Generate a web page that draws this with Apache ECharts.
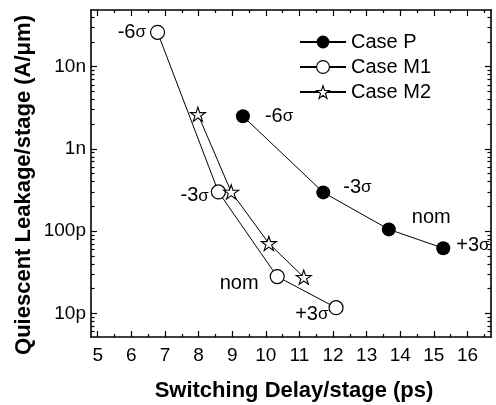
<!DOCTYPE html>
<html lang="en">
<head>
    <meta charset="UTF-8">
    <title>Quiescent leakage vs switching delay</title>
    <script src="https://cdn.jsdelivr.net/npm/echarts@6/dist/echarts.min.js"></script>
    <style>
        html, body { margin: 0; padding: 0; background: #fff; }
        #main { width: 496px; height: 405px; }
    </style>
</head>
<body>
    <div id="main"></div>

    <script>
        // data (delay in ps, leakage in A/um)
        var delayP = [9.32, 11.71, 13.66, 15.28];
        var leakP = [2.5e-9, 2.96e-10, 1.05e-10, 6.2e-11];
        var delayM1 = [6.78, 8.59, 10.34, 12.09];
        var leakM1 = [2.62e-8, 3.0e-10, 2.8e-11, 1.17e-11];
        var delayM2 = [7.98, 8.97, 10.09, 11.13];
        var leakM2 = [2.64e-9, 3.0e-10, 7.1e-11, 2.75e-11];
        var cornerNames = ['-6σ', '-3σ', 'nom', '+3σ'];
        var seriesNames = ['Case P', 'Case M1', 'Case M2'];

        var xTicks = [5, 6, 7, 8, 9, 10, 11, 12, 13, 14, 15, 16];
        var yTickValues = [1e-11, 1e-10, 1e-9, 1e-8];
        var yTickLabels = ['10p', '100p', '1n', '10n'];

        var xRange = [4.8, 16.7];
        var yRange = [5.15e-12, 4.9e-8];

        var font = '"Liberation Sans", Arial, sans-serif';
        var starPath = 'path://M100 0 L122.45 69.1 L195.11 69.1 L136.33 111.8 L158.78 180.9 L100 138.2 L41.22 180.9 L63.67 111.8 L4.89 69.1 L77.55 69.1 Z';

        // where each corner label sits next to its point
        var placeP = [
            { position: 'right', distance: 15, offset: [0, 0] },
            { position: 'right', distance: 13, offset: [0, -5] },
            { position: 'right', distance: 16, offset: [0, -12] },
            { position: 'right', distance: 6, offset: [0, -3] }
        ];
        var placeM1 = [
            { position: 'left', distance: 4, offset: [0, 0] },
            { position: 'left', distance: 2, offset: [0, 4] },
            { position: 'left', distance: 11, offset: [0, 7] },
            { position: 'left', distance: 0, offset: [0, 7] }
        ];

        var log10 = function (v) { return Math.log10(v); };
        var yMin = log10(yRange[0]), yMax = log10(yRange[1]);

        // minor ticks: half steps on x, 2..9 per decade on y
        var xMinor = [];
        for (var i = 4; i <= 16; i++) xMinor.push(i + 0.5);
        var yMinor = [];
        for (var d = -12; d <= -8; d++) {
            for (var k = 2; k <= 9; k++) yMinor.push(d + Math.log10(k));
        }
        var yMajor = yTickValues.map(log10);

        function buildPoints(xs, ys, labels, place) {
            return xs.map(function (x, i) {
                var item = { value: [x, log10(ys[i])] };
                if (labels) {
                    item.label = {
                        show: true,
                        // sigma drawn a bit smaller, like the symbol font in the figure
                        formatter: labels[i].replace('σ', '{s|σ}'),
                        position: place[i].position,
                        distance: place[i].distance,
                        offset: place[i].offset,
                        color: '#000',
                        fontSize: 20,
                        fontFamily: font,
                        rich: { s: { fontSize: 17, fontFamily: font, color: '#000' } }
                    };
                }
                return item;
            });
        }

        function frameAxis(dim, pos, ticks, len, showLine, labelVals, formatter) {
            var range = dim === 'x' ? [xRange[0], xRange[1]] : [yMin, yMax];
            return {
                type: 'value',
                position: pos,
                min: range[0],
                max: range[1],
                axisLine: { show: showLine, onZero: false, lineStyle: { color: '#000', width: 1.6 } },
                axisTick: {
                    show: true, inside: true, length: len, customValues: ticks,
                    lineStyle: { color: '#000', width: 1.2 }
                },
                axisLabel: labelVals ? {
                    show: true, customValues: labelVals, formatter: formatter,
                    color: '#000', fontSize: 19, fontFamily: font,
                    margin: dim === 'x' ? 9 : 5
                } : { show: false },
                splitLine: { show: false }
            };
        }

        var yFormatter = function (v) {
            for (var i = 0; i < yMajor.length; i++) {
                if (Math.abs(yMajor[i] - v) < 1e-6) return yTickLabels[i];
            }
            return '';
        };

        var myChart = echarts.init(document.getElementById('main'));

        var option = {
            animation: false,
            backgroundColor: '#fff',
            grid: { left: 91, right: 5, top: 10, bottom: 68, containLabel: false },
            xAxis: [
                frameAxis('x', 'bottom', xTicks, 6, true, xTicks, function (v) { return String(v); }),
                frameAxis('x', 'bottom', xMinor, 3, false),
                frameAxis('x', 'top', xTicks, 6, true),
                frameAxis('x', 'top', xMinor, 3, false)
            ],
            yAxis: [
                frameAxis('y', 'left', yMajor, 6, true, yMajor, yFormatter),
                frameAxis('y', 'left', yMinor, 3.5, false),
                frameAxis('y', 'right', yMajor, 6, true),
                frameAxis('y', 'right', yMinor, 3.5, false)
            ],
            legend: {
                left: 294,
                top: 27,
                orient: 'vertical',
                itemWidth: 46,
                itemHeight: 16,
                itemGap: 5,
                itemStyle: { borderWidth: 1.1 },
                textStyle: { color: '#000', fontSize: 20, fontFamily: font, lineHeight: 20 },
                data: seriesNames
            },
            graphic: [
                {
                    type: 'text', x: 294, y: 391,
                    style: {
                        text: 'Switching Delay/stage (ps)',
                        font: 'bold 22px ' + font,
                        textAlign: 'center', textVerticalAlign: 'middle', fill: '#000'
                    }
                },
                {
                    type: 'text', x: 24, y: 185, rotation: Math.PI / 2,
                    style: {
                        text: 'Quiescent Leakage/stage (A/μm)',
                        font: 'bold 22px ' + font,
                        textAlign: 'center', textVerticalAlign: 'middle', fill: '#000'
                    }
                }
            ],
            series: [
                {
                    name: seriesNames[0],
                    type: 'line',
                    symbol: 'circle',
                    symbolSize: 14,
                    itemStyle: { color: '#000' },
                    lineStyle: { color: '#000', width: 1 },
                    data: buildPoints(delayP, leakP, cornerNames, placeP)
                },
                {
                    name: seriesNames[1],
                    type: 'line',
                    symbol: 'circle',
                    symbolSize: 14,
                    itemStyle: { color: '#fff', borderColor: '#000', borderWidth: 1.2 },
                    lineStyle: { color: '#000', width: 1 },
                    data: buildPoints(delayM1, leakM1, cornerNames, placeM1)
                },
                {
                    name: seriesNames[2],
                    type: 'line',
                    symbol: starPath,
                    symbolKeepAspect: true,
                    symbolSize: 15,
                    itemStyle: { color: '#fff', borderColor: '#000', borderWidth: 1.1 },
                    lineStyle: { color: '#000', width: 1 },
                    data: buildPoints(delayM2, leakM2)
                }
            ]
        };

        myChart.setOption(option);
    </script>
</body>
</html>
